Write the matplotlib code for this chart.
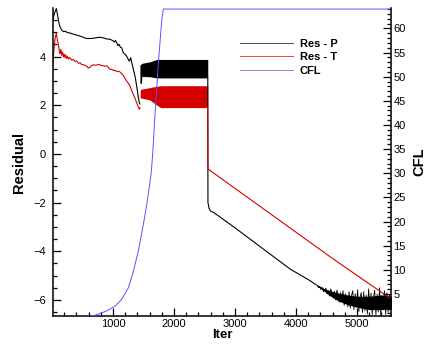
import numpy as np
import matplotlib
matplotlib.use('Agg')
import matplotlib.pyplot as plt
from matplotlib.ticker import MultipleLocator

plt.rcParams['font.family'] = ['Liberation Sans', 'DejaVu Sans']

# --- Res - P (black) ---
p_iter = [0, 25, 50, 70, 90, 115, 135, 160, 190, 220, 250, 290, 330, 380, 430, 480,
          530, 570, 620, 680, 740, 800, 850, 900, 950, 990, 1020, 1040, 1060, 1080,
          1100, 1120, 1142, 1169, 1195, 1224, 1250, 1267, 1290, 1305, 1322, 1340,
          1361, 1388, 1415, 1431, 1440]
p_res = [5.30, 5.65, 5.85, 5.97, 5.70, 5.35, 5.20, 5.08, 5.02, 5.04, 4.98, 4.97, 4.93,
         4.90, 4.86, 4.82, 4.77, 4.74, 4.74, 4.75, 4.78, 4.79, 4.76, 4.72, 4.71, 4.66,
         4.60, 4.66, 4.56, 4.45, 4.50, 4.38, 4.36, 4.15, 4.10, 4.01, 3.88, 3.81, 3.95,
         3.75, 3.60, 3.40, 3.19, 2.78, 2.31, 2.10, 2.05]

# oscillating band (envelope)
pb_iter = [1440, 1465, 1472, 1600, 1720, 2553]
pb_hi = [3.65, 3.70, 3.72, 3.78, 3.88, 3.88]
pb_lo = [2.90, 2.90, 3.18, 3.17, 3.12, 3.12]

# after the switch
p2_iter = [2553, 2556, 2575, 2600, 2656, 3000, 3902, 4230, 4330]
p2_res = [3.12, -2.00, -2.25, -2.35, -2.42, -3.04, -4.73, -5.21, -5.38]

# noisy tail: dense core envelope plus spikes
pc_iter = [4330, 4450, 4550, 4700, 4850, 5000, 5200, 5400, 5565]
pc_lo = [-5.40, -5.62, -5.82, -6.05, -6.20, -6.30, -6.40, -6.40, -6.35]
pc_hi = [-5.36, -5.52, -5.62, -5.72, -5.80, -5.85, -5.85, -5.80, -5.85]

pn_iter = list(range(4350, 5570, 20))
pn_res = [-5.40, -5.50, -5.44, -5.58, -5.48, -5.66, -5.60, -5.52, -5.76, -5.62,
          -5.84, -5.55, -5.70, -5.92, -5.64, -6.00, -5.60, -5.78, -6.10, -5.70,
          -6.02, -5.62, -6.22, -5.75, -5.90, -6.28, -5.66, -6.34, -5.82, -5.62,
          -6.40, -5.74, -6.30, -5.58, -6.48, -5.90, -5.70, -6.52, -5.66, -6.45,
          -5.80, -6.58, -5.55, -6.30, -5.72, -6.60, -5.88, -5.60, -6.62, -5.76,
          -6.50, -5.50, -6.64, -5.82, -6.40, -5.62, -6.60, -5.70, -6.52, -5.78,
          -5.95]

# --- Res - T (red) ---
t_iter = [0, 15, 30, 50, 70, 85, 103, 120, 131, 145, 159, 172, 186, 200, 213, 227,
          241, 255, 268, 290, 322, 350, 377, 405, 432, 460, 486, 515, 541, 570, 596,
          623, 650, 680, 720, 760, 800, 840, 870, 900, 930, 951, 980, 1010, 1033,
          1060, 1090, 1115, 1140, 1169, 1195, 1224, 1250, 1279, 1305, 1333, 1360,
          1388, 1410, 1431, 1440]
t_res = [3.00, 3.60, 4.30, 4.75, 4.97, 4.70, 4.50, 4.20, 4.12, 4.30, 4.05, 4.18, 3.98,
         4.10, 3.95, 4.06, 3.92, 4.00, 3.90, 3.96, 3.85, 3.88, 3.80, 3.82, 3.72, 3.74,
         3.67, 3.66, 3.64, 3.60, 3.52, 3.56, 3.63, 3.66, 3.64, 3.68, 3.64, 3.62, 3.60,
         3.62, 3.52, 3.47, 3.48, 3.42, 3.44, 3.38, 3.40, 3.36, 3.30, 3.22, 3.10, 2.99,
         2.90, 2.78, 2.60, 2.44, 2.28, 2.10, 1.95, 1.83, 1.90]

tb_iter = [1445, 1450, 1600, 1720, 1780, 2553]
tb_hi = [2.55, 2.65, 2.72, 2.78, 2.80, 2.80]
tb_lo = [2.30, 2.30, 2.22, 2.00, 1.90, 1.90]

t2_iter = [2553, 2556, 4611, 5565]
t2_res = [1.90, -0.62, -4.32, -5.97]

# --- CFL (blue, right axis) ---
c_iter = [0, 670, 897, 1033, 1142, 1251, 1333, 1415, 1497, 1552, 1600, 1625, 1650,
          1689, 1743, 1798, 1825, 5565]
c_val = [0.1, 0.46, 1.5, 2.5, 3.9, 6.3, 9.7, 13.9, 19.4, 23.5, 27.6, 30.0, 34.0,
         42.5, 52.8, 61.7, 64.0, 64.0]

fig = plt.figure(figsize=(4.29, 3.44), dpi=100)
ax = fig.add_axes([0.1235, 0.0815, 0.789, 0.895])
ax2 = ax.twinx()

red = '#d40000'
lp, = ax.plot(p_iter, p_res, color='black', lw=0.8)
ax.fill_between(pb_iter, pb_lo, pb_hi, color='black', lw=0)
ax.plot(p2_iter, p2_res, color='black', lw=0.8)
ax.fill_between(pc_iter, pc_lo, pc_hi, color='black', lw=0)
ax.plot(pn_iter, pn_res, color='black', lw=0.6)
lt, = ax.plot(t_iter, t_res, color=red, lw=0.8)
ax.fill_between(tb_iter, tb_lo, tb_hi, color=red, lw=0)
ax.plot(t2_iter, t2_res, color=red, lw=0.8)
lc, = ax2.plot(c_iter, c_val, color='#5555ff', lw=0.7)

ax.set_xlim(15, 5565)
ax.set_ylim(-6.66, 5.99)
ax2.set_ylim(0.46, 64.2)

ax.xaxis.set_major_locator(MultipleLocator(1000))
ax.xaxis.set_minor_locator(MultipleLocator(200))
ax.yaxis.set_major_locator(MultipleLocator(2))
ax.yaxis.set_minor_locator(MultipleLocator(0.5))
ax2.yaxis.set_major_locator(MultipleLocator(5))
ax2.yaxis.set_minor_locator(MultipleLocator(1))

for a in (ax, ax2):
    a.spines['top'].set_visible(False)
    for s in a.spines.values():
        s.set_linewidth(1.1)
ax.spines['right'].set_visible(False)
ax2.spines['left'].set_visible(False)
ax2.spines['bottom'].set_visible(False)

ax.tick_params(axis='both', which='both', direction='in', width=0.9)
ax.tick_params(axis='x', labelsize=8)
ax.tick_params(axis='y', labelsize=8)
ax.tick_params(axis='both', which='major', length=6)
ax.tick_params(axis='both', which='minor', length=3)
ax.tick_params(axis='y', which='major', pad=5)
ax.tick_params(axis='x', which='major', pad=2.5)
ax.tick_params(top=False, right=False, which='both')
ax2.tick_params(axis='y', which='both', direction='in', labelsize=8, width=0.9, pad=1.5)
ax2.tick_params(axis='y', which='major', length=6)
ax2.tick_params(axis='y', which='minor', length=3)

ax.set_xlabel('Iter', fontsize=9.5, fontweight='bold', labelpad=0)
ax.set_ylabel('Residual', fontsize=10.5, fontweight='bold', labelpad=5)
ax2.set_ylabel('CFL', fontsize=10.5, fontweight='bold', labelpad=5)

leg = ax2.legend([lp, lt, lc], ['Res - P', 'Res - T', 'CFL'], loc='upper left',
                 bbox_to_anchor=(0.535, 0.918), frameon=False, fontsize=8,
                 handlelength=4.8, handletextpad=0.6, labelspacing=0.3, borderpad=0)
for t in leg.get_texts():
    t.set_fontweight('bold')
for h in leg.get_lines():
    h.set_linewidth(0.7)
    h.set_alpha(0.7)

fig.savefig('out.png', dpi=100)
